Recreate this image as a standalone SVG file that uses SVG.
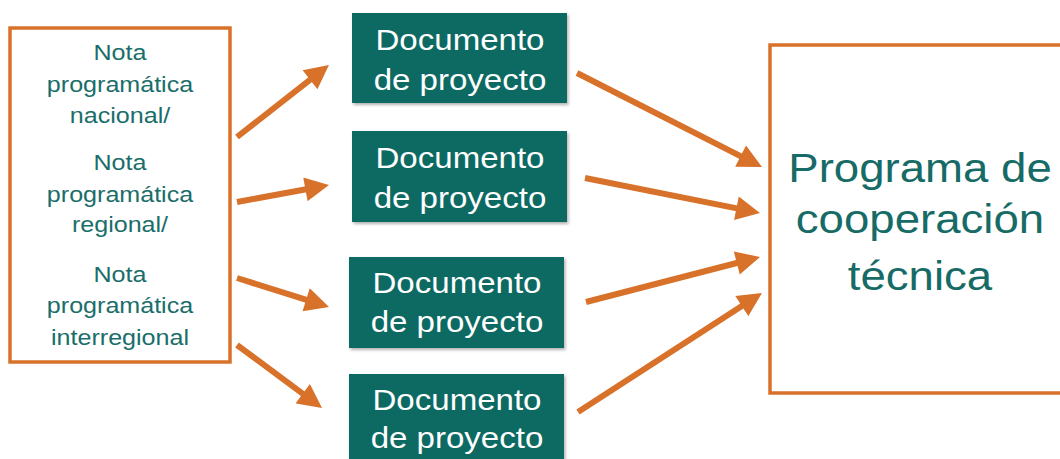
<svg xmlns="http://www.w3.org/2000/svg" width="1060" height="459" viewBox="0 0 1060 459">
<defs>
<style>
.frame{fill:#ffffff;stroke:#D8722A;stroke-width:3.5}
.doc{fill:#0E6A64;filter:url(#sh)}
.lt{font-family:"Liberation Sans",Arial,sans-serif;font-size:22px;fill:#1A6E6A;text-anchor:middle}
.dt{font-family:"Liberation Sans",Arial,sans-serif;font-size:29px;fill:#ffffff;text-anchor:middle}
.rt{font-family:"Liberation Sans",Arial,sans-serif;font-size:40px;fill:#176B66;text-anchor:middle}
.arr{stroke:#D8722A;stroke-width:6;fill:none;marker-end:url(#ah)}
</style>
<marker id="ah" viewBox="0 0 10 10" markerWidth="4.2" markerHeight="4" refX="5" refY="5" orient="auto" markerUnits="strokeWidth">
<path d="M0,0 L10,5 L0,10 z" fill="#D8722A"/>
</marker>
<filter id="sh" x="-5%" y="-5%" width="112%" height="115%">
<feDropShadow dx="1.5" dy="2" stdDeviation="1.5" flood-color="#000000" flood-opacity="0.3"/>
</filter>
</defs>
<rect width="1060" height="459" fill="#ffffff"/>

<g id="notas">
<rect class="frame" x="10" y="28" width="220" height="334"/>
<g transform="translate(120 0) scale(1.14 1)">
<text class="lt" x="0" y="60">Nota</text>
<text class="lt" x="0" y="92">programática</text>
<text class="lt" x="0" y="123">nacional/</text>
<text class="lt" x="0" y="170">Nota</text>
<text class="lt" x="0" y="202">programática</text>
<text class="lt" x="0" y="232">regional/</text>
<text class="lt" x="0" y="282">Nota</text>
<text class="lt" x="0" y="313">programática</text>
<text class="lt" x="0" y="345">interregional</text>
</g>
</g>

<g id="doc1">
<rect class="doc" x="352" y="13" width="215" height="90"/>
<g transform="translate(460 0) scale(1.14 1)">
<text class="dt" x="0" y="50">Documento</text>
<text class="dt" x="0" y="90">de proyecto</text>
</g>
</g>

<g id="doc2">
<rect class="doc" x="352" y="131" width="215" height="91"/>
<g transform="translate(460 0) scale(1.14 1)">
<text class="dt" x="0" y="168">Documento</text>
<text class="dt" x="0" y="208">de proyecto</text>
</g>
</g>

<g id="doc3">
<rect class="doc" x="349" y="257" width="215" height="91"/>
<g transform="translate(457 0) scale(1.14 1)">
<text class="dt" x="0" y="293">Documento</text>
<text class="dt" x="0" y="332">de proyecto</text>
</g>
</g>

<g id="doc4">
<rect class="doc" x="349" y="374" width="215" height="100"/>
<g transform="translate(457 0) scale(1.14 1)">
<text class="dt" x="0" y="410">Documento</text>
<text class="dt" x="0" y="448">de proyecto</text>
</g>
</g>

<g id="programa">
<rect class="frame" x="770" y="45" width="300" height="348"/>
<g transform="translate(920 0) scale(1.14 1)">
<text class="rt" x="0" y="182">Programa de</text>
<text class="rt" x="0" y="233">cooperación</text>
<text class="rt" x="0" y="290">técnica</text>
</g>
</g>

<g id="connectors">
<line class="arr" x1="237" y1="137" x2="319.5" y2="72.4"/>
<line class="arr" x1="237" y1="202" x2="317.2" y2="187.2"/>
<line class="arr" x1="237" y1="278" x2="317.6" y2="303.4"/>
<line class="arr" x1="237" y1="345" x2="312.4" y2="400.9"/>
<line class="arr" x1="577" y1="73" x2="751.3" y2="161.6"/>
<line class="arr" x1="585" y1="178" x2="748.2" y2="210.6"/>
<line class="arr" x1="586" y1="302" x2="748.4" y2="260"/>
<line class="arr" x1="578" y1="412" x2="751.9" y2="299.5"/>
</g>
</svg>
